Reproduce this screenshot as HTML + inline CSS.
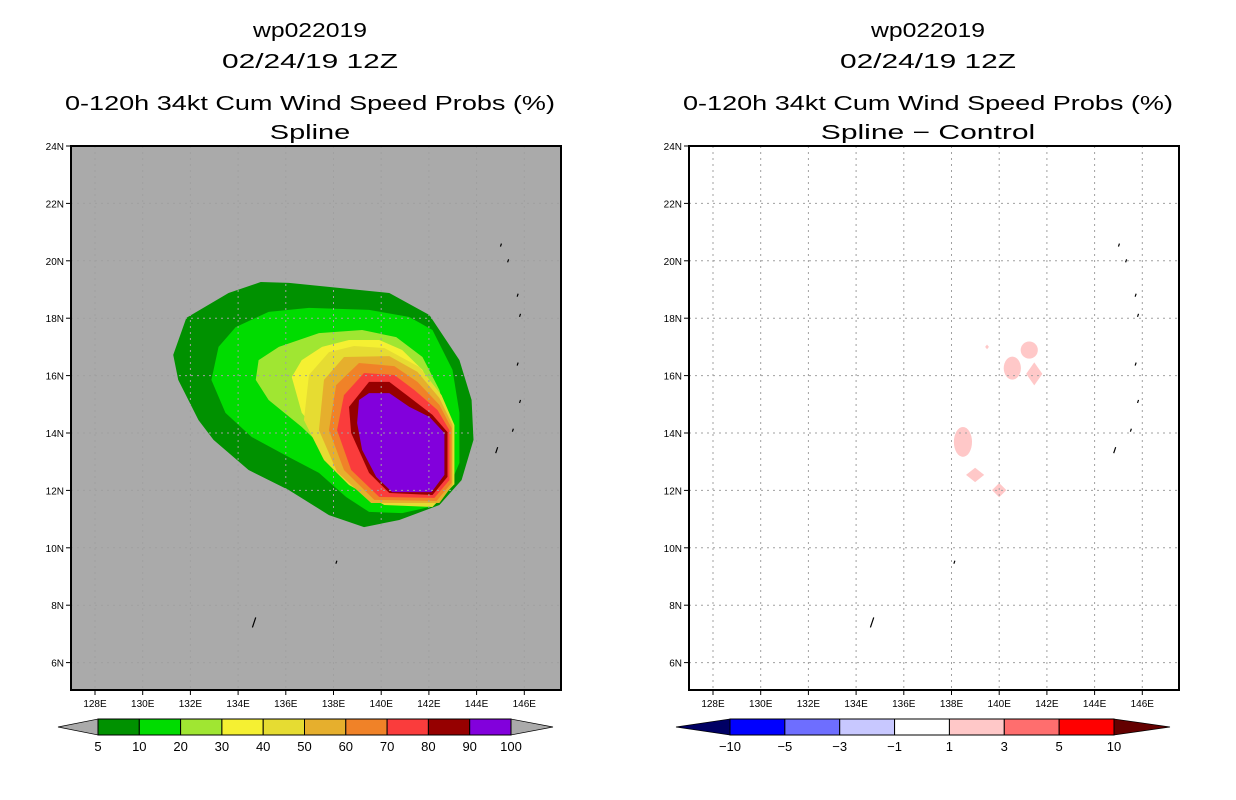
<!DOCTYPE html>
<html><head><meta charset="utf-8"><style>
body{margin:0;background:#fff;width:1236px;height:800px;overflow:hidden}
svg{display:block}
text{font-family:"Liberation Sans",sans-serif;fill:#000}
</style></head><body>
<svg id="c" width="1236" height="800"></svg>
<script>
const levels=[5,10,20,30,40,50,60,70,80,90,100];
const levelColors=["#009100","#00dc00","#a0e632","#f5f032","#e6dc32","#e6af2d","#f08228","#fa3c3c","#960000","#8200dc"];
const diffLabels=["-10","-5","-3","-1","1","3","5","10"];
const diffColors=["#0000ff","#6e6eff","#c8c8ff","#ffffff","#ffc8c8","#ff6e6e","#ff0000"];
const latTicks=[6,8,10,12,14,16,18,20,22,24];
const lonTicks=[128,130,132,134,136,138,140,142,144,146];
const c5=[[134.95,19.26],[136.13,19.23],[140.34,18.88],[142.02,18.11],[143.28,16.54],[143.79,15.15],[143.87,13.76],[143.37,12.36],[142.44,11.49],[140.76,10.97],[139.28,10.72],[137.81,11.14],[136.13,12.01],[134.44,12.71],[132.97,13.76],[132.34,14.45],[131.49,15.85],[131.28,16.72],[131.83,18.01],[133.6,18.88]];
const c10=[[135.28,18.22],[136.97,18.36],[139.49,18.29],[141.18,18.04],[142.15,17.59],[142.99,16.2],[143.28,14.7],[143.28,12.96],[142.74,11.91],[142.02,11.42],[140.88,11.21],[139.49,11.25],[138.53,11.77],[137.39,12.61],[136.13,13.16],[134.57,13.86],[133.47,14.7],[132.88,15.85],[133.18,17.0],[133.9,17.69]];
const c20=[[134.86,16.54],[135.71,17.0],[137.39,17.48],[139.2,17.59],[140.63,17.34],[141.73,16.65],[142.44,15.5],[142.86,14.21],[142.99,12.61],[142.32,11.77],[141.6,11.56],[140.21,11.6],[138.95,12.26],[137.81,13.3],[136.67,14.21],[135.28,15.15],[134.74,15.85]];
const c30=[[136.25,15.95],[136.67,16.54],[137.52,17.0],[138.65,17.24],[139.92,17.24],[140.88,16.89],[141.73,16.2],[142.32,15.25],[142.74,14.21],[142.86,12.47],[142.02,11.67],[140.63,11.67],[139.49,12.12],[138.53,12.95],[137.52,13.86],[136.67,14.7]];
const c40=[[137.81,16.82],[136.97,16.02],[136.76,14.45],[137.6,13.06],[138.65,12.19],[140.13,11.49],[142.15,11.42],[143.07,12.22],[143.07,14.28],[142.53,15.32],[141.6,16.3],[140.13,16.96],[138.86,17.03]];
const c50=[[138.44,16.65],[137.6,15.85],[137.39,14.1],[138.15,12.64],[139.58,11.56],[142.44,11.56],[142.99,12.19],[142.99,14.28],[142.44,15.22],[141.52,16.13],[140.34,16.68]];
const c60=[[139.07,16.44],[138.11,15.67],[137.81,14.1],[138.44,12.71],[139.71,11.67],[142.32,11.63],[142.95,12.26],[142.95,14.17],[142.44,14.98],[141.52,15.78],[140.55,16.33]];
const c70=[[139.28,16.09],[138.44,15.32],[138.15,14.1],[138.74,12.71],[139.92,11.77],[142.23,11.74],[142.86,12.36],[142.86,14.1],[142.36,14.8],[141.39,15.5],[140.55,16.02]];
const c80=[[139.49,15.78],[138.65,14.91],[138.74,14.0],[139.49,12.61],[140.34,11.91],[142.15,11.84],[142.78,12.47],[142.78,14.03],[142.15,14.63],[141.18,15.25],[140.34,15.78]];
const c90=[[139.07,15.15],[139.49,15.39],[140.34,15.39],[141.18,14.91],[142.02,14.56],[142.65,14.0],[142.65,12.54],[142.11,11.94],[140.46,11.94],[139.79,12.47],[139.2,13.41],[138.99,14.35]];
const contours=[c5,c10,c20,c30,c40,c50,c60,c70,c80,c90];
const blobLon=[141.26,140.55,141.47,139.49,138.48,138.99,140.0];
const blobLat=[16.89,16.26,16.06,17.0,13.69,12.54,12.01];
const blobRx=[0.36,0.36,0.34,0.08,0.38,0.38,0.3];
const blobRy=[0.3,0.4,0.4,0.08,0.52,0.25,0.25];
const blobShape=[0,0,1,1,0,1,1];
const isl=[[145.0,20.55],[145.3,20.0],[145.7,18.8],[145.8,18.1],[145.7,16.4],[145.8,15.1],[145.5,14.1],[144.8,13.4],[138.1,9.5],[134.6,7.4]];

const S="http://www.w3.org/2000/svg",svg=document.getElementById('c');
function el(t,a,p){const e=document.createElementNS(S,t);for(const k in a)e.setAttribute(k,a[k]);(p||svg).appendChild(e);return e;}
const L=71,T=146,W=490,H=544;
function xs(lon,off){return off+95+(lon-128)*23.85;}
function ys(lat){return T+(24-lat)*28.7;}
function titles(cx,sub,name){
  const g=el('g',{});
  
  
  const lines=[["wp022019",30,114],["02/24/19 12Z",61,176],["0-120h 34kt Cum Wind Speed Probs (%)",103,490],[sub,132,sub.length*13.4]];
  lines.forEach(l=>{const t=el('text',{x:cx,y:l[1]+7,'text-anchor':'middle','font-size':20,textLength:l[2],lengthAdjust:'spacingAndGlyphs'},g);t.textContent=l[0];});
}
function panel(off,isLeft){
  const g=el('g',{});
  
  
  const cp=el('clipPath',{id:'cp'+off},g);el('rect',{x:L+off,y:T,width:W,height:H},cp);
  el('rect',{x:L+off,y:T,width:W,height:H,fill:isLeft?'#aaaaaa':'#fff'},g);
  const cg=el('g',{'clip-path':'url(#cp'+off+')'},g);
  if(isLeft){
    contours.forEach((poly,i)=>{
      const p=el('polygon',{points:poly.map(q=>xs(q[0],off)+','+ys(q[1])).join(' '),fill:levelColors[i]},cg);
      
      
    });
  }else{
    blobLon.forEach((lo,i)=>{
      const cx=xs(lo,off),cy=ys(blobLat[i]),rx=blobRx[i]*23.85,ry=blobRy[i]*28.7;
      let b;
      if(blobShape[i])b=el('polygon',{points:`${cx-rx},${cy} ${cx},${cy-ry} ${cx+rx},${cy} ${cx},${cy+ry}`,fill:'#ffc8c8'},cg);
      else b=el('ellipse',{cx:cx,cy:cy,rx:rx,ry:ry,fill:'#ffc8c8'},cg);
      
      
    });
  }
  lonTicks.forEach(lo=>{const x=xs(lo,off);el('line',{x1:x,y1:T,x2:x,y2:T+H,stroke:'#a0a0a0','stroke-dasharray':'2,4','stroke-width':1},cg);});
  latTicks.forEach(la=>{const y=ys(la);el('line',{x1:L+off,y1:y,x2:L+off+W,y2:y,stroke:'#a0a0a0','stroke-dasharray':'2,4','stroke-width':1},cg);});
  isl.forEach((q,i)=>{const x=xs(q[0],off),y=ys(q[1]);const n=i==9?10:(i==7?6:3);el('line',{x1:x,y1:y+n/2,x2:x+n/3,y2:y-n/2,stroke:'#000','stroke-width':1.2},cg);});
  el('rect',{x:L+off,y:T,width:W,height:H,fill:'none',stroke:'#000','stroke-width':2},g);
  latTicks.forEach(la=>{const y=ys(la);el('line',{x1:L+off-5,y1:y,x2:L+off,y2:y,stroke:'#000'},g);
    const t=el('text',{x:L+off-7,y:y+4,'text-anchor':'end','font-size':10},g);t.textContent=la+'N';});
  lonTicks.forEach(lo=>{const x=xs(lo,off);el('line',{x1:x,y1:T+H,x2:x,y2:T+H+5,stroke:'#000'},g);
    const t=el('text',{x:x,y:T+H+17,'text-anchor':'middle','font-size':10},g);t.textContent=lo+'E';});
}
function colorbar(x0,x1,tipL,tipR,cols,labels,triL,triR,name){
  const g=el('g',{});
  
  
  const y0=719,h=16,n=cols.length,w=(x1-x0)/n;
  el('polygon',{points:`${tipL},727 ${x0},${y0} ${x0},${y0+h}`,fill:triL,stroke:'#000','stroke-width':0.7},g);
  el('polygon',{points:`${tipR},727 ${x1},${y0} ${x1},${y0+h}`,fill:triR,stroke:'#000','stroke-width':0.7},g);
  cols.forEach((c,i)=>{el('rect',{x:x0+i*w,y:y0,width:w,height:h,fill:c,stroke:'#000','stroke-width':1},g);});
  labels.forEach((s,i)=>{const t=el('text',{x:x0+i*w,y:751,'text-anchor':'middle','font-size':13},g);t.textContent=s.replace('-','\u2212');});
}
titles(310,"Spline","left-title");
titles(928,"Spline \u2212 Control","right-title");
panel(0,true);panel(618,false);
colorbar(98,511,58,553,levelColors,levels.map(String),'#aaaaaa','#aaaaaa','prob-colorbar');
colorbar(730,1114,676,1170,diffColors,diffLabels,'#000064','#640000','diff-colorbar');
</script>
</body></html>
